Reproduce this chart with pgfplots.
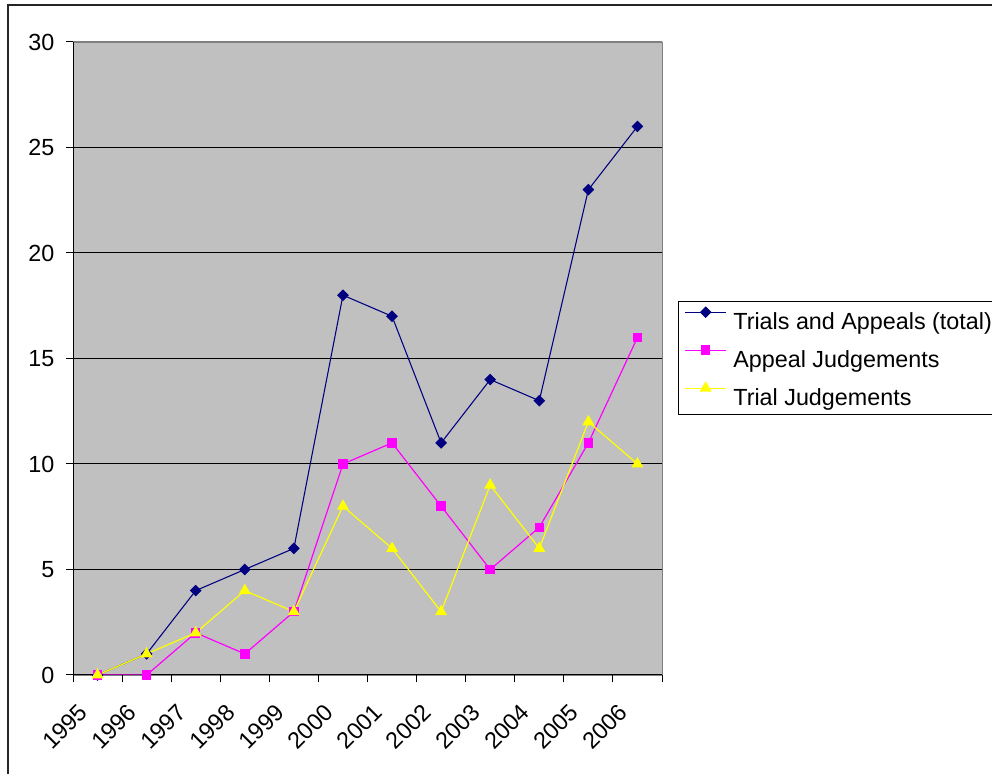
\documentclass[border=0pt]{standalone}
\usepackage{fontspec}
\setmainfont{Liberation Sans}
\usepackage{pgfplots}
\pgfplotsset{compat=1.18}
\definecolor{navyc}{HTML}{000080}
\definecolor{magc}{HTML}{FF00FF}
\definecolor{yelc}{HTML}{FFFF00}
\definecolor{bgc}{HTML}{C0C0C0}
\definecolor{edgec}{HTML}{808080}
\begin{document}
\begin{tikzpicture}[x=0.75pt,y=0.75pt,font=\fontsize{17.5}{20}\selectfont]
\useasboundingbox (0,0) rectangle (992,774);
\draw[line width=1pt, black!85] (8,-30) -- (8,769) -- (1030,769);
\begin{axis}[
  at={(54.75pt,74.25pt)}, anchor=south west, scale only axis,
  width=441.75pt, height=474.75pt,
  xmin=0.5, xmax=12.5, ymin=0, ymax=30,
  axis background/.style={fill=bgc, draw=edgec},
  axis x line*=bottom, axis y line*=left,
  axis line style={black, line width=0.75pt},
  xtick={0.5,1.5,...,12.5}, xticklabels={,,},
  extra x ticks={1,2,3,4,5,6,7,8,9,10,11,12},
  extra x tick labels={1995,1996,1997,1998,1999,2000,2001,2002,2003,2004,2005,2006},
  extra x tick style={major tick length=0pt},
  xticklabel style={font=\fontsize{17.5}{20}\selectfont, inner sep=0pt, xshift=-10.5pt, yshift=-25pt, rotate=45, anchor=east},
  ytick={0,5,...,30},
  tick align=outside, major tick length=5.5pt,
  tick style={black, line width=0.75pt},
  ymajorgrids, grid style={black, line width=0.75pt},
  /pgf/number format/assume math mode=true,
  yticklabel style={font=\fontsize{17.5}{20}\selectfont, xshift=-5pt},
  legend style={at={(1.0272,0.5908)}, anchor=north west, draw=black, fill=white, line width=0.75pt,
    font=\fontsize{17.5}{20}\selectfont, inner xsep=4.5pt, inner ysep=2pt, row sep=4.5pt, column sep=3pt,
    nodes={inner sep=2pt, text height=17pt, text depth=3pt}},
  legend cell align=left,
  legend image code/.code={\draw[mark repeat=2,mark phase=2] plot coordinates {(0pt,6pt)(15.4pt,6pt)(30.75pt,6pt)};},
]
\addplot[navyc, line width=0.8pt, mark=square*, mark size=2.7pt, mark options={rotate=45, solid}]
  coordinates {(1,0)(2,1)(3,4)(4,5)(5,6)(6,18)(7,17)(8,11)(9,14)(10,13)(11,23)(12,26)};
\addlegendentry{Trials and Appeals (total)}
\addplot[magc, line width=0.9pt, mark=square*, mark size=3.1pt]
  coordinates {(1,0)(2,0)(3,2)(4,1)(5,3)(6,10)(7,11)(8,8)(9,5)(10,7)(11,11)(12,16)};
\addlegendentry{Appeal Judgements}
\addplot[yelc, line width=0.9pt, mark=triangle*, mark size=4.3pt]
  coordinates {(1,0)(2,1)(3,2)(4,4)(5,3)(6,8)(7,6)(8,3)(9,9)(10,6)(11,12)(12,10)};
\addlegendentry{Trial Judgements}
\draw[edgec, line width=0.75pt] (axis cs:0.5,30) -- (axis cs:12.5,30) -- (axis cs:12.5,0);
\end{axis}
\end{tikzpicture}
\end{document}
